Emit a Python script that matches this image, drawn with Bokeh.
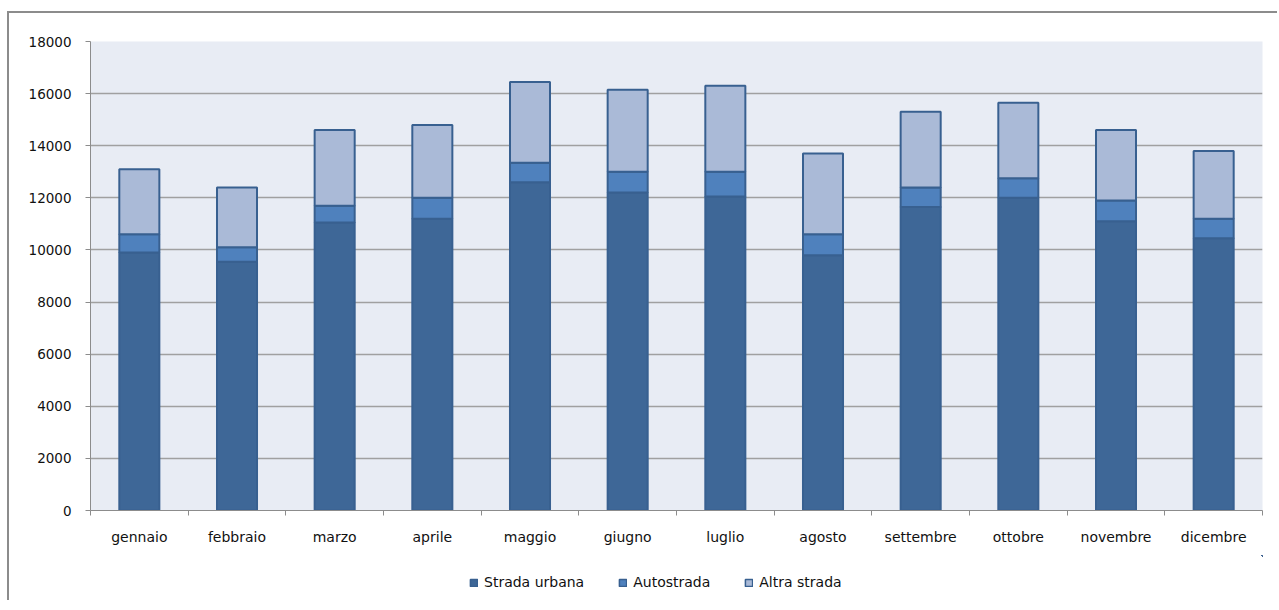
from bokeh.plotting import figure
from bokeh.models import ColumnDataSource, FixedTicker, Legend, LegendItem
from bokeh.layouts import column
from bokeh.embed import file_html
from bokeh.resources import INLINE

months = ["gennaio", "febbraio", "marzo", "aprile", "maggio", "giugno",
          "luglio", "agosto", "settembre", "ottobre", "novembre", "dicembre"]
strada_urbana = [9900, 9550, 11050, 11200, 12600, 12200, 12050, 9800, 11650, 12000, 11100, 10450]
autostrada = [700, 550, 650, 800, 750, 800, 950, 800, 750, 750, 800, 750]
altra_strada = [2500, 2300, 2900, 2800, 3100, 3150, 3300, 3100, 2900, 2900, 2700, 2600]
series_names = ["Strada urbana", "Autostrada", "Altra strada"]
colors = ["#3E6797", "#4F81BD", "#AABAD7"]
y_ticks = list(range(0, 18001, 2000))

centers = [i + 0.5 for i in range(len(months))]
source = ColumnDataSource(dict(x=centers, s0=strada_urbana, s1=autostrada, s2=altra_strada))

FONT = "DejaVu Sans"
EDGE = "#386090"

p = figure(frame_width=1172, frame_height=469,
           min_border_left=81, min_border_right=15, min_border_top=28, min_border_bottom=45,
           x_range=(0, len(months)), y_range=(0, 18000),
           output_backend="svg", toolbar_location=None,
           background_fill_color="#E8ECF4", border_fill_color="white")
p.outline_line_color = None

p.vbar_stack(["s0", "s1", "s2"], x="x", width=0.41, source=source,
             fill_color=colors, line_color=EDGE, line_width=2)

# axes
p.yaxis.ticker = FixedTicker(ticks=y_ticks)
p.yaxis.minor_tick_line_color = None
p.yaxis.major_tick_out = 5
p.yaxis.major_tick_in = 0
p.yaxis.axis_line_color = "#8C8C8C"
p.yaxis.major_tick_line_color = "#8C8C8C"
p.yaxis.major_label_text_font = FONT
p.yaxis.major_label_text_font_size = "13.5px"
p.yaxis.major_label_text_color = "#111111"
p.yaxis.major_label_standoff = 14

p.xaxis.ticker = FixedTicker(ticks=centers, minor_ticks=list(range(len(months) + 1)))
p.xaxis.major_label_overrides = {c: m for c, m in zip(centers, months)}
p.xaxis.major_tick_line_color = None
p.xaxis.minor_tick_out = 5
p.xaxis.minor_tick_in = 0
p.xaxis.minor_tick_line_color = "#8C8C8C"
p.xaxis.axis_line_color = "#8C8C8C"
p.xaxis.major_label_text_font = FONT
p.xaxis.major_label_text_font_size = "14px"
p.xaxis.major_label_text_color = "#111111"
p.xaxis.major_label_standoff = 12

p.xgrid.grid_line_color = None
p.ygrid.ticker = FixedTicker(ticks=y_ticks)
p.ygrid.grid_line_color = "#A0A0A0"
p.ygrid.grid_line_width = 1.5

# legend strip below the chart (its own view ranges keep the stacked bars far out of sight)
leg = figure(width=81 + 1172 + 15, height=45, min_border=0,
             x_range=(-1000, -999), y_range=(-1000000, -900000),
             output_backend="svg", toolbar_location=None,
             background_fill_color="white", border_fill_color="white")
leg.outline_line_color = None
leg.axis.visible = False
leg.grid.grid_line_color = None
leg_renderers = leg.vbar_stack(["s0", "s1", "s2"], x="x", width=0.41, source=source,
                               fill_color=colors, line_color=EDGE, line_width=1.5)
legend = Legend(items=[LegendItem(label=n, renderers=[r]) for n, r in zip(series_names, leg_renderers)],
                orientation="horizontal", location=(379, 10),
                label_text_font=FONT, label_text_font_size="14px", label_text_color="#111111",
                glyph_width=9, glyph_height=9, label_standoff=6, spacing=34,
                border_line_color=None, background_fill_alpha=0, padding=0, margin=0)
leg.add_layout(legend, "center")

layout = column(p, leg, spacing=0)
layout.styles = {"border-top": "2px solid #8C8C8C", "border-left": "2px solid #8C8C8C",
                 "margin-top": "11px", "margin-left": "7px"}

open("out.html", "w").write(file_html(layout, INLINE))
